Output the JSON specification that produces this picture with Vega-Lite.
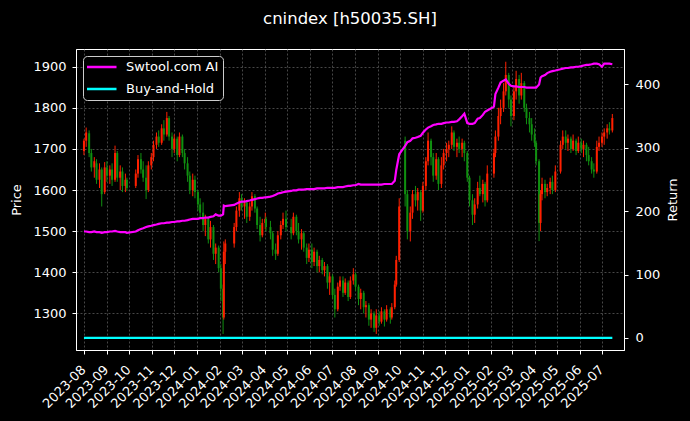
{
  "$schema": "https://vega.github.io/schema/vega-lite/v6.json",
  "width": 548,
  "height": 301,
  "autosize": {"type": "none"},
  "padding": {"left": 76, "top": 49, "right": 66, "bottom": 71},
  "background": "black",
  "title": {"text": "cnindex [h50035.SH]", "color": "white", "fontSize": 16.5, "fontWeight": "normal", "font": "DejaVu Sans", "anchor": "middle", "offset": 22},
  "config": {
    "font": "DejaVu Sans",
    "view": {"stroke": "white", "strokeWidth": 1},
    "axis": {"labelColor": "white", "tickColor": "white", "domainColor": "white", "titleColor": "white", "labelFontSize": 13, "titleFontSize": 13, "titleFontWeight": "normal", "labelFont": "DejaVu Sans", "titleFont": "DejaVu Sans", "tickSize": 4, "labelPadding": 3, "gridColor": "#666666", "gridDash": [2, 2], "gridWidth": 0.7},
    "legend": {"labelColor": "white", "labelFontSize": 13, "labelFont": "DejaVu Sans"}
  },
  "data": {"values": [
    {"d":"2023-08-01","o":1695,"h":1725,"l":1685,"c":1720,"r":168,"b":0},
    {"d":"2023-08-04","o":1720,"h":1752,"l":1705,"c":1740,"r":168,"b":0},
    {"d":"2023-08-08","o":1738,"h":1745,"l":1680,"c":1690,"r":167,"b":0},
    {"d":"2023-08-11","o":1690,"h":1700,"l":1645,"c":1655,"r":167,"b":0},
    {"d":"2023-08-15","o":1655,"h":1680,"l":1630,"c":1670,"r":168,"b":0},
    {"d":"2023-08-18","o":1665,"h":1675,"l":1615,"c":1625,"r":167,"b":0},
    {"d":"2023-08-22","o":1625,"h":1665,"l":1605,"c":1650,"r":167,"b":0},
    {"d":"2023-08-25","o":1650,"h":1655,"l":1560,"c":1590,"r":166,"b":0},
    {"d":"2023-08-29","o":1595,"h":1668,"l":1590,"c":1655,"r":167,"b":0},
    {"d":"2023-09-01","o":1655,"h":1670,"l":1620,"c":1635,"r":167,"b":0},
    {"d":"2023-09-05","o":1635,"h":1660,"l":1615,"c":1650,"r":168,"b":0},
    {"d":"2023-09-08","o":1650,"h":1665,"l":1610,"c":1625,"r":168,"b":0},
    {"d":"2023-09-12","o":1625,"h":1708,"l":1620,"c":1690,"r":169,"b":0},
    {"d":"2023-09-15","o":1690,"h":1695,"l":1620,"c":1630,"r":168,"b":0},
    {"d":"2023-09-19","o":1630,"h":1660,"l":1600,"c":1645,"r":167,"b":0},
    {"d":"2023-09-22","o":1645,"h":1655,"l":1595,"c":1610,"r":167,"b":0},
    {"d":"2023-09-26","o":1610,"h":1640,"l":1595,"c":1625,"r":167,"b":0},
    {"d":"2023-09-28","o":1625,"h":1630,"l":1598,"c":1605,"r":166,"b":0},
    {"d":"2023-10-10","o":1610,"h":1650,"l":1605,"c":1640,"r":168,"b":0},
    {"d":"2023-10-13","o":1640,"h":1685,"l":1630,"c":1675,"r":170,"b":0},
    {"d":"2023-10-17","o":1675,"h":1690,"l":1640,"c":1650,"r":172,"b":0},
    {"d":"2023-10-20","o":1650,"h":1670,"l":1620,"c":1630,"r":173,"b":0},
    {"d":"2023-10-24","o":1630,"h":1660,"l":1578,"c":1600,"r":175,"b":0},
    {"d":"2023-10-27","o":1600,"h":1670,"l":1595,"c":1660,"r":176,"b":0},
    {"d":"2023-10-31","o":1660,"h":1690,"l":1650,"c":1680,"r":177,"b":0},
    {"d":"2023-11-03","o":1680,"h":1720,"l":1670,"c":1710,"r":178,"b":0},
    {"d":"2023-11-07","o":1710,"h":1740,"l":1700,"c":1730,"r":179,"b":0},
    {"d":"2023-11-10","o":1730,"h":1745,"l":1705,"c":1715,"r":180,"b":0},
    {"d":"2023-11-14","o":1715,"h":1760,"l":1710,"c":1750,"r":181,"b":0},
    {"d":"2023-11-17","o":1750,"h":1770,"l":1720,"c":1735,"r":181,"b":0},
    {"d":"2023-11-21","o":1735,"h":1790,"l":1730,"c":1775,"r":182,"b":0},
    {"d":"2023-11-24","o":1775,"h":1780,"l":1720,"c":1730,"r":182,"b":0},
    {"d":"2023-11-28","o":1730,"h":1740,"l":1680,"c":1700,"r":183,"b":0},
    {"d":"2023-12-01","o":1700,"h":1735,"l":1690,"c":1725,"r":183,"b":0},
    {"d":"2023-12-05","o":1725,"h":1730,"l":1670,"c":1685,"r":184,"b":0},
    {"d":"2023-12-08","o":1685,"h":1740,"l":1680,"c":1730,"r":184,"b":0},
    {"d":"2023-12-12","o":1730,"h":1735,"l":1680,"c":1690,"r":185,"b":0},
    {"d":"2023-12-15","o":1690,"h":1700,"l":1650,"c":1665,"r":185,"b":0},
    {"d":"2023-12-19","o":1665,"h":1680,"l":1620,"c":1635,"r":186,"b":0},
    {"d":"2023-12-22","o":1635,"h":1645,"l":1590,"c":1600,"r":187,"b":0},
    {"d":"2023-12-26","o":1600,"h":1640,"l":1585,"c":1625,"r":188,"b":0},
    {"d":"2023-12-29","o":1625,"h":1635,"l":1580,"c":1595,"r":188,"b":0},
    {"d":"2024-01-02","o":1595,"h":1600,"l":1550,"c":1565,"r":188,"b":0},
    {"d":"2024-01-05","o":1565,"h":1580,"l":1530,"c":1545,"r":189,"b":0},
    {"d":"2024-01-09","o":1545,"h":1570,"l":1500,"c":1515,"r":189,"b":0},
    {"d":"2024-01-12","o":1515,"h":1540,"l":1488,"c":1530,"r":190,"b":0},
    {"d":"2024-01-16","o":1530,"h":1535,"l":1470,"c":1480,"r":190,"b":0},
    {"d":"2024-01-19","o":1480,"h":1525,"l":1460,"c":1510,"r":191,"b":0},
    {"d":"2024-01-23","o":1510,"h":1515,"l":1430,"c":1445,"r":192,"b":0},
    {"d":"2024-01-26","o":1445,"h":1470,"l":1420,"c":1460,"r":195,"b":0},
    {"d":"2024-01-30","o":1460,"h":1465,"l":1400,"c":1410,"r":193,"b":0},
    {"d":"2024-02-02","o":1410,"h":1420,"l":1330,"c":1360,"r":193,"b":0},
    {"d":"2024-02-05","o":1360,"h":1370,"l":1250,"c":1290,"r":195,"b":0},
    {"d":"2024-02-06","o":1290,"h":1475,"l":1285,"c":1450,"r":209,"b":0},
    {"d":"2024-02-08","o":1450,"h":1480,"l":1420,"c":1470,"r":208,"b":0},
    {"d":"2024-02-20","o":1470,"h":1520,"l":1460,"c":1510,"r":210,"b":0},
    {"d":"2024-02-23","o":1510,"h":1560,"l":1500,"c":1550,"r":212,"b":0},
    {"d":"2024-02-27","o":1550,"h":1595,"l":1535,"c":1580,"r":214,"b":0},
    {"d":"2024-03-01","o":1580,"h":1590,"l":1550,"c":1560,"r":215,"b":0},
    {"d":"2024-03-05","o":1560,"h":1580,"l":1530,"c":1570,"r":215,"b":0},
    {"d":"2024-03-08","o":1570,"h":1575,"l":1520,"c":1535,"r":216,"b":0},
    {"d":"2024-03-12","o":1535,"h":1570,"l":1525,"c":1560,"r":217,"b":0},
    {"d":"2024-03-15","o":1560,"h":1595,"l":1550,"c":1585,"r":218,"b":0},
    {"d":"2024-03-19","o":1585,"h":1590,"l":1545,"c":1555,"r":219,"b":0},
    {"d":"2024-03-22","o":1555,"h":1560,"l":1505,"c":1515,"r":220,"b":0},
    {"d":"2024-03-26","o":1515,"h":1535,"l":1475,"c":1490,"r":221,"b":0},
    {"d":"2024-03-29","o":1490,"h":1530,"l":1485,"c":1520,"r":221,"b":0},
    {"d":"2024-04-02","o":1520,"h":1545,"l":1505,"c":1530,"r":222,"b":0},
    {"d":"2024-04-03","o":1530,"h":1535,"l":1500,"c":1510,"r":222,"b":0},
    {"d":"2024-04-09","o":1510,"h":1525,"l":1480,"c":1495,"r":223,"b":0},
    {"d":"2024-04-12","o":1495,"h":1500,"l":1440,"c":1455,"r":224,"b":0},
    {"d":"2024-04-16","o":1455,"h":1470,"l":1430,"c":1445,"r":226,"b":0},
    {"d":"2024-04-19","o":1445,"h":1500,"l":1440,"c":1490,"r":228,"b":0},
    {"d":"2024-04-23","o":1490,"h":1525,"l":1480,"c":1515,"r":229,"b":0},
    {"d":"2024-04-26","o":1515,"h":1545,"l":1505,"c":1530,"r":230,"b":0},
    {"d":"2024-04-30","o":1530,"h":1550,"l":1500,"c":1510,"r":231,"b":0},
    {"d":"2024-05-07","o":1510,"h":1530,"l":1480,"c":1495,"r":232,"b":0},
    {"d":"2024-05-10","o":1495,"h":1545,"l":1490,"c":1535,"r":233,"b":0},
    {"d":"2024-05-14","o":1535,"h":1540,"l":1490,"c":1500,"r":233,"b":0},
    {"d":"2024-05-17","o":1500,"h":1520,"l":1470,"c":1480,"r":234,"b":0},
    {"d":"2024-05-21","o":1480,"h":1505,"l":1455,"c":1495,"r":234,"b":0},
    {"d":"2024-05-24","o":1495,"h":1500,"l":1450,"c":1460,"r":234,"b":0},
    {"d":"2024-05-28","o":1460,"h":1470,"l":1420,"c":1435,"r":235,"b":0},
    {"d":"2024-05-31","o":1435,"h":1470,"l":1425,"c":1455,"r":235,"b":0},
    {"d":"2024-06-04","o":1455,"h":1470,"l":1410,"c":1425,"r":235,"b":0},
    {"d":"2024-06-07","o":1425,"h":1460,"l":1415,"c":1450,"r":235,"b":0},
    {"d":"2024-06-11","o":1450,"h":1455,"l":1400,"c":1415,"r":236,"b":0},
    {"d":"2024-06-14","o":1415,"h":1440,"l":1400,"c":1430,"r":236,"b":0},
    {"d":"2024-06-18","o":1430,"h":1435,"l":1395,"c":1405,"r":236,"b":0},
    {"d":"2024-06-21","o":1405,"h":1425,"l":1390,"c":1415,"r":236,"b":0},
    {"d":"2024-06-25","o":1415,"h":1420,"l":1360,"c":1375,"r":237,"b":0},
    {"d":"2024-06-28","o":1375,"h":1400,"l":1345,"c":1390,"r":237,"b":0},
    {"d":"2024-07-02","o":1390,"h":1395,"l":1335,"c":1345,"r":237,"b":0},
    {"d":"2024-07-05","o":1345,"h":1360,"l":1290,"c":1310,"r":237,"b":0},
    {"d":"2024-07-09","o":1310,"h":1375,"l":1305,"c":1365,"r":238,"b":0},
    {"d":"2024-07-12","o":1365,"h":1390,"l":1355,"c":1380,"r":238,"b":0},
    {"d":"2024-07-16","o":1380,"h":1390,"l":1340,"c":1350,"r":238,"b":0},
    {"d":"2024-07-19","o":1350,"h":1385,"l":1345,"c":1375,"r":239,"b":0},
    {"d":"2024-07-23","o":1375,"h":1380,"l":1330,"c":1340,"r":240,"b":0},
    {"d":"2024-07-26","o":1340,"h":1390,"l":1335,"c":1380,"r":240,"b":0},
    {"d":"2024-07-30","o":1380,"h":1410,"l":1370,"c":1395,"r":241,"b":0},
    {"d":"2024-08-02","o":1395,"h":1400,"l":1355,"c":1365,"r":241,"b":0},
    {"d":"2024-08-06","o":1365,"h":1370,"l":1320,"c":1335,"r":243,"b":0},
    {"d":"2024-08-09","o":1335,"h":1360,"l":1310,"c":1350,"r":242,"b":0},
    {"d":"2024-08-13","o":1350,"h":1355,"l":1300,"c":1315,"r":242,"b":0},
    {"d":"2024-08-16","o":1315,"h":1330,"l":1290,"c":1320,"r":242,"b":0},
    {"d":"2024-08-20","o":1320,"h":1325,"l":1270,"c":1285,"r":242,"b":0},
    {"d":"2024-08-23","o":1285,"h":1310,"l":1265,"c":1300,"r":242,"b":0},
    {"d":"2024-08-27","o":1300,"h":1305,"l":1255,"c":1265,"r":242,"b":0},
    {"d":"2024-08-30","o":1265,"h":1310,"l":1250,"c":1295,"r":242,"b":0},
    {"d":"2024-09-03","o":1295,"h":1305,"l":1270,"c":1280,"r":242,"b":0},
    {"d":"2024-09-06","o":1280,"h":1315,"l":1275,"c":1305,"r":242,"b":0},
    {"d":"2024-09-10","o":1305,"h":1310,"l":1268,"c":1285,"r":243,"b":0},
    {"d":"2024-09-13","o":1285,"h":1320,"l":1280,"c":1310,"r":243,"b":0},
    {"d":"2024-09-18","o":1310,"h":1315,"l":1275,"c":1290,"r":243,"b":0},
    {"d":"2024-09-20","o":1290,"h":1325,"l":1285,"c":1315,"r":243,"b":0},
    {"d":"2024-09-24","o":1315,"h":1380,"l":1310,"c":1370,"r":248,"b":0},
    {"d":"2024-09-26","o":1370,"h":1440,"l":1365,"c":1430,"r":265,"b":0},
    {"d":"2024-09-30","o":1430,"h":1580,"l":1425,"c":1560,"r":290,"b":0},
    {"d":"2024-10-08","o":1720,"h":1730,"l":1560,"c":1590,"r":303,"b":0},
    {"d":"2024-10-11","o":1590,"h":1600,"l":1480,"c":1500,"r":309,"b":0},
    {"d":"2024-10-15","o":1500,"h":1560,"l":1475,"c":1545,"r":311,"b":0},
    {"d":"2024-10-18","o":1545,"h":1600,"l":1530,"c":1590,"r":315,"b":0},
    {"d":"2024-10-22","o":1590,"h":1610,"l":1560,"c":1575,"r":316,"b":0},
    {"d":"2024-10-25","o":1575,"h":1605,"l":1550,"c":1595,"r":317,"b":0},
    {"d":"2024-10-29","o":1595,"h":1600,"l":1525,"c":1550,"r":319,"b":0},
    {"d":"2024-11-01","o":1550,"h":1620,"l":1545,"c":1610,"r":324,"b":0},
    {"d":"2024-11-05","o":1610,"h":1680,"l":1600,"c":1670,"r":329,"b":0},
    {"d":"2024-11-08","o":1670,"h":1740,"l":1660,"c":1720,"r":332,"b":0},
    {"d":"2024-11-12","o":1720,"h":1725,"l":1660,"c":1680,"r":334,"b":0},
    {"d":"2024-11-15","o":1680,"h":1690,"l":1620,"c":1635,"r":336,"b":0},
    {"d":"2024-11-19","o":1635,"h":1690,"l":1625,"c":1675,"r":337,"b":0},
    {"d":"2024-11-22","o":1675,"h":1680,"l":1600,"c":1615,"r":338,"b":0},
    {"d":"2024-11-26","o":1615,"h":1680,"l":1605,"c":1660,"r":338,"b":0},
    {"d":"2024-11-29","o":1660,"h":1700,"l":1650,"c":1690,"r":339,"b":0},
    {"d":"2024-12-03","o":1690,"h":1715,"l":1670,"c":1700,"r":340,"b":0},
    {"d":"2024-12-06","o":1700,"h":1720,"l":1680,"c":1710,"r":340,"b":0},
    {"d":"2024-12-10","o":1710,"h":1755,"l":1700,"c":1740,"r":341,"b":0},
    {"d":"2024-12-13","o":1740,"h":1745,"l":1695,"c":1705,"r":341,"b":0},
    {"d":"2024-12-17","o":1705,"h":1725,"l":1680,"c":1715,"r":342,"b":0},
    {"d":"2024-12-20","o":1715,"h":1730,"l":1690,"c":1700,"r":345,"b":0},
    {"d":"2024-12-24","o":1700,"h":1725,"l":1680,"c":1715,"r":350,"b":0},
    {"d":"2024-12-27","o":1715,"h":1720,"l":1670,"c":1690,"r":354,"b":0},
    {"d":"2024-12-31","o":1690,"h":1695,"l":1620,"c":1630,"r":339,"b":0},
    {"d":"2025-01-03","o":1630,"h":1635,"l":1560,"c":1575,"r":338,"b":0},
    {"d":"2025-01-07","o":1575,"h":1590,"l":1515,"c":1540,"r":338,"b":0},
    {"d":"2025-01-10","o":1540,"h":1580,"l":1520,"c":1565,"r":339,"b":0},
    {"d":"2025-01-14","o":1565,"h":1620,"l":1555,"c":1605,"r":346,"b":0},
    {"d":"2025-01-17","o":1605,"h":1635,"l":1585,"c":1590,"r":347,"b":0},
    {"d":"2025-01-21","o":1590,"h":1625,"l":1570,"c":1615,"r":352,"b":0},
    {"d":"2025-01-24","o":1615,"h":1620,"l":1560,"c":1575,"r":357,"b":0},
    {"d":"2025-01-27","o":1575,"h":1660,"l":1570,"c":1640,"r":359,"b":0},
    {"d":"2025-02-05","o":1640,"h":1700,"l":1630,"c":1690,"r":365,"b":0},
    {"d":"2025-02-07","o":1690,"h":1745,"l":1680,"c":1730,"r":385,"b":0},
    {"d":"2025-02-11","o":1730,"h":1800,"l":1720,"c":1780,"r":395,"b":0},
    {"d":"2025-02-14","o":1780,"h":1820,"l":1760,"c":1800,"r":403,"b":0},
    {"d":"2025-02-18","o":1800,"h":1860,"l":1790,"c":1840,"r":406,"b":0},
    {"d":"2025-02-21","o":1840,"h":1912,"l":1830,"c":1880,"r":408,"b":0},
    {"d":"2025-02-25","o":1880,"h":1885,"l":1800,"c":1820,"r":401,"b":0},
    {"d":"2025-02-28","o":1820,"h":1830,"l":1755,"c":1780,"r":398,"b":0},
    {"d":"2025-03-04","o":1780,"h":1850,"l":1770,"c":1840,"r":397,"b":0},
    {"d":"2025-03-07","o":1840,"h":1890,"l":1820,"c":1870,"r":397,"b":0},
    {"d":"2025-03-11","o":1870,"h":1880,"l":1810,"c":1830,"r":396,"b":0},
    {"d":"2025-03-14","o":1830,"h":1885,"l":1820,"c":1860,"r":396,"b":0},
    {"d":"2025-03-18","o":1860,"h":1865,"l":1790,"c":1800,"r":396,"b":0},
    {"d":"2025-03-21","o":1800,"h":1810,"l":1760,"c":1775,"r":395,"b":0},
    {"d":"2025-03-25","o":1775,"h":1790,"l":1740,"c":1760,"r":395,"b":0},
    {"d":"2025-03-28","o":1760,"h":1775,"l":1720,"c":1735,"r":395,"b":0},
    {"d":"2025-04-01","o":1735,"h":1750,"l":1705,"c":1715,"r":395,"b":0},
    {"d":"2025-04-03","o":1715,"h":1720,"l":1660,"c":1670,"r":395,"b":0},
    {"d":"2025-04-07","o":1670,"h":1675,"l":1476,"c":1520,"r":400,"b":0},
    {"d":"2025-04-09","o":1520,"h":1600,"l":1500,"c":1590,"r":411,"b":0},
    {"d":"2025-04-11","o":1590,"h":1630,"l":1575,"c":1615,"r":413,"b":0},
    {"d":"2025-04-15","o":1615,"h":1625,"l":1580,"c":1595,"r":415,"b":0},
    {"d":"2025-04-18","o":1595,"h":1615,"l":1585,"c":1605,"r":418,"b":0},
    {"d":"2025-04-22","o":1605,"h":1630,"l":1590,"c":1620,"r":420,"b":0},
    {"d":"2025-04-25","o":1620,"h":1635,"l":1590,"c":1600,"r":421,"b":0},
    {"d":"2025-04-29","o":1600,"h":1660,"l":1595,"c":1645,"r":422,"b":0},
    {"d":"2025-05-06","o":1645,"h":1720,"l":1640,"c":1710,"r":424,"b":0},
    {"d":"2025-05-09","o":1710,"h":1745,"l":1700,"c":1730,"r":425,"b":0},
    {"d":"2025-05-13","o":1730,"h":1745,"l":1700,"c":1715,"r":426,"b":0},
    {"d":"2025-05-16","o":1715,"h":1735,"l":1695,"c":1725,"r":426,"b":0},
    {"d":"2025-05-20","o":1725,"h":1730,"l":1690,"c":1700,"r":427,"b":0},
    {"d":"2025-05-23","o":1700,"h":1735,"l":1695,"c":1720,"r":427,"b":0},
    {"d":"2025-05-27","o":1720,"h":1725,"l":1685,"c":1695,"r":428,"b":0},
    {"d":"2025-05-30","o":1695,"h":1730,"l":1690,"c":1715,"r":428,"b":0},
    {"d":"2025-06-03","o":1715,"h":1725,"l":1690,"c":1700,"r":429,"b":0},
    {"d":"2025-06-06","o":1700,"h":1720,"l":1680,"c":1710,"r":430,"b":0},
    {"d":"2025-06-10","o":1710,"h":1715,"l":1670,"c":1685,"r":431,"b":0},
    {"d":"2025-06-13","o":1685,"h":1705,"l":1660,"c":1670,"r":431,"b":0},
    {"d":"2025-06-17","o":1670,"h":1680,"l":1640,"c":1650,"r":432,"b":0},
    {"d":"2025-06-20","o":1650,"h":1665,"l":1630,"c":1645,"r":433,"b":0},
    {"d":"2025-06-24","o":1645,"h":1720,"l":1640,"c":1705,"r":433,"b":0},
    {"d":"2025-06-27","o":1705,"h":1730,"l":1695,"c":1715,"r":432,"b":0},
    {"d":"2025-07-01","o":1715,"h":1740,"l":1705,"c":1730,"r":428,"b":0},
    {"d":"2025-07-04","o":1730,"h":1750,"l":1710,"c":1740,"r":433,"b":0},
    {"d":"2025-07-08","o":1740,"h":1760,"l":1725,"c":1750,"r":433,"b":0},
    {"d":"2025-07-11","o":1750,"h":1765,"l":1735,"c":1745,"r":433,"b":0},
    {"d":"2025-07-15","o":1745,"h":1785,"l":1740,"c":1775,"r":432,"b":0}
  ]},
  "encoding": {
    "x": {"field": "d", "type": "temporal",
      "scale": {"type": "utc", "domain": ["2023-07-28", "2025-07-24"]},
      "axis": {"title": null, "format": "%Y-%m", "tickCount": {"interval": "month", "step": 1}, "labelAngle": -45, "labelAlign": "right", "labelBaseline": "top", "labelOverlap": false, "labelOffset": -5, "labelPadding": 9, "grid": true, "labelFlush": false}}
  },
  "layer": [
    {
      "layer": [
        {"mark": {"type": "rule", "strokeWidth": 1},
         "encoding": {
           "y": {"field": "l", "type": "quantitative", "scale": {"domain": [1211, 1943], "nice": false, "zero": false},
             "axis": {"title": "Price", "orient": "left", "format": "d", "values": [1300, 1400, 1500, 1600, 1700, 1800, 1900], "grid": true, "labelPadding": 6, "titlePadding": 9}},
           "y2": {"field": "h"},
           "color": {"condition": {"test": "datum.c >= datum.o", "value": "#ff2000"}, "value": "#109010"}
         }},
        {"mark": {"type": "bar", "size": 2},
         "encoding": {
           "y": {"field": "o", "type": "quantitative"},
           "y2": {"field": "c"},
           "color": {"condition": {"test": "datum.c >= datum.o", "value": "#ff2000"}, "value": "#109010"}
         }}
      ]
    },
    {
      "layer": [
        {"mark": {"type": "line", "strokeWidth": 2.2},
         "encoding": {
           "y": {"field": "r", "type": "quantitative", "scale": {"domain": [-19, 456], "nice": false, "zero": false},
             "axis": {"title": "Return", "orient": "right", "format": "d", "values": [0, 100, 200, 300, 400], "grid": false, "labelPadding": 7, "titlePadding": 7, "titleAngle": 270, "titleBaseline": "top"}},
           "color": {"datum": "Swtool.com AI", "type": "nominal",
             "scale": {"domain": ["Swtool.com AI", "Buy-and-Hold"], "range": ["#ff00ff", "#00ffff"]},
             "legend": {"title": null, "orient": "top-left", "offset": 7, "padding": 4, "symbolType": "stroke", "symbolSize": 961, "symbolStrokeWidth": 2.5, "symbolOffset": -3, "clipHeight": 14, "rowPadding": 8, "labelOffset": 8, "strokeColor": "#cccccc", "fillColor": "#000000", "cornerRadius": 4}}
         }},
        {"mark": {"type": "line", "strokeWidth": 2.2},
         "encoding": {
           "y": {"field": "b", "type": "quantitative"},
           "color": {"datum": "Buy-and-Hold", "type": "nominal"}
         }}
      ]
    }
  ],
  "resolve": {"scale": {"y": "independent"}}
}
